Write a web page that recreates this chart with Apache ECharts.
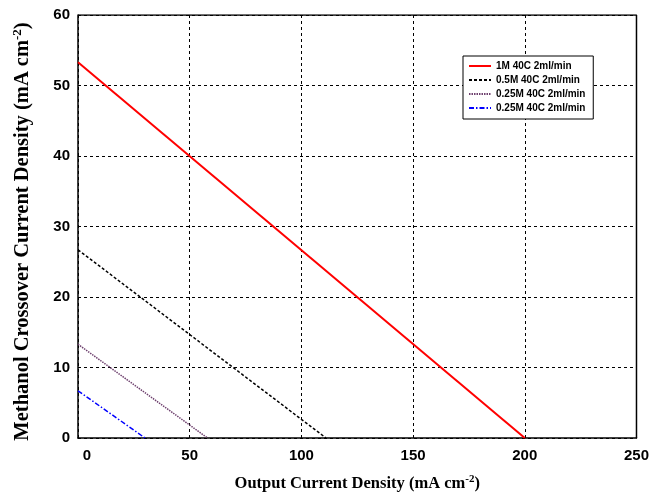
<!DOCTYPE html>
<html>
<head>
<meta charset="utf-8">
<script src="https://cdn.jsdelivr.net/npm/echarts@6/dist/echarts.min.js"></script>
<style>
    html, body { margin: 0; padding: 0; background: #fff; }
    #chart { width: 652px; height: 498px; }
</style>
</head>
<body>
<div id="chart"></div>
<script>
// legend names
const seriesNames = ['1M 40C 2ml/min', '0.5M 40C 2ml/min', '0.25M 40C 2ml/min', '0.25M 40C 2ml/min '];
// each line: [x, y] at start and end
const red1M = [[0, 53.3], [200, 0]];
const black05M = [[0, 26.7], [111, 0]];
const purple025M = [[0, 13.3], [58, 0]];
const blue025M = [[0, 6.7], [30, 0]];

const xTicks = [0, 50, 100, 150, 200, 250];
const yTicks = [0, 10, 20, 30, 40, 50, 60];

var myChart = echarts.init(document.getElementById('chart'));

function lineSeries(name, data, color, type) {
    return {
        name: name,
        type: 'line',
        data: data,
        showSymbol: false,
        symbol: 'none',
        animation: false,
        lineStyle: { color: color, width: type === 'solid' ? 2 : 1.5, type: type },
        itemStyle: { color: color }
    };
}

const axisFont = { fontFamily: 'Liberation Sans', fontWeight: 'bold', fontSize: 15, color: '#000' };
const serif = { fontFamily: 'Liberation Serif', fontWeight: 'bold', color: '#000' };

const option = {
    backgroundColor: '#fff',
    animation: false,
    grid: { left: 78, right: 12, top: 15, bottom: 60, containLabel: false },
    legend: {
        orient: 'vertical',
        left: 463,
        top: 56,
        itemWidth: 22,
        itemHeight: 9,
        itemGap: 4,
        padding: [5, 5, 6, 5],
        borderColor: '#000',
        borderWidth: 1,
        backgroundColor: '#fff',
        itemStyle: { opacity: 0 },
        textStyle: { fontFamily: 'Liberation Sans', fontWeight: 'bold', fontSize: 10, color: '#000' },
        data: seriesNames
    },
    xAxis: {
        type: 'value',
        min: 0,
        max: 250,
        interval: 50,
        name: '{a|Output Current Density (mA cm}{s|-2}{a|)}',
        nameLocation: 'middle',
        nameGap: 36,
        nameTextStyle: {
            rich: {
                a: Object.assign({ fontSize: 16.5 }, serif),
                s: Object.assign({ fontSize: 11, padding: [0, 0, 9, 0] }, serif)
            }
        },
        axisLine: { show: true, onZero: false, lineStyle: { color: '#000', width: 1.5 } },
        axisTick: { show: false },
        axisLabel: Object.assign({
            margin: 10,
            formatter: function (v) {
                if (xTicks.indexOf(v) < 0) return '';
                return v === 0 ? '{z|0}' : String(v);
            },
            rich: { z: Object.assign({ padding: [0, 0, 0, 18] }, axisFont) }
        }, axisFont),
        splitLine: { show: true, lineStyle: { color: '#000', type: [3, 3], width: 1 } }
    },
    yAxis: {
        type: 'value',
        min: 0,
        max: 60,
        interval: 10,
        name: '{a|Methanol Crossover Current Density (mA cm}{s|-2}{a|)}',
        nameLocation: 'middle',
        nameGap: 43,
        nameRotate: 90,
        nameTextStyle: {
            padding: [0, 10, 0, 0],
            rich: {
                a: Object.assign({ fontSize: 20.5 }, serif),
                s: Object.assign({ fontSize: 13, padding: [0, 0, 11, 0] }, serif)
            }
        },
        axisLine: { show: true, onZero: false, lineStyle: { color: '#000', width: 1.5 } },
        axisTick: { show: false },
        axisLabel: Object.assign({ margin: 8, formatter: function (v) { return yTicks.indexOf(v) >= 0 ? String(v) : ''; } }, axisFont),
        splitLine: { show: true, lineStyle: { color: '#000', type: [3, 3], width: 1 } }
    },
    series: [
        lineSeries(seriesNames[0], red1M, '#ff0000', 'solid'),
        lineSeries(seriesNames[1], black05M, '#000000', [3, 2]),
        lineSeries(seriesNames[2], purple025M, '#6e406e', [1.5, 1]),
        lineSeries(seriesNames[3], blue025M, '#0000ff', [5, 2, 1.5, 2]),
        // right / top frame
        {
            type: 'line',
            data: [[250, 0], [250, 60], [0, 60]],
            showSymbol: false,
            symbol: 'none',
            silent: true,
            lineStyle: { color: '#000', width: 1.5 },
            legendHoverLink: false
        }
    ]
};

myChart.setOption(option);
</script>
</body>
</html>
